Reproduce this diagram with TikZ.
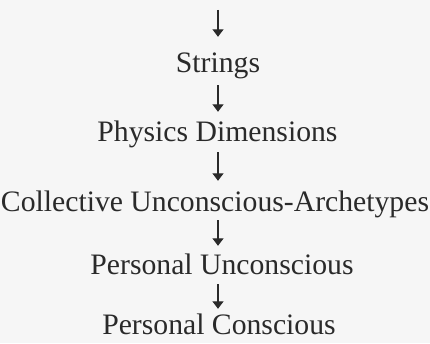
\documentclass[tikz,border=0pt]{standalone}
\usepackage{fontspec}
\setmainfont{Liberation Serif}
\usetikzlibrary{arrows.meta}
\definecolor{ink}{HTML}{2A2A2A}
\definecolor{paper}{HTML}{F6F6F6}
\tikzset{
  lbl/.style={anchor=base, inner sep=0pt, text height=20pt, text depth=0pt,
    text=ink, font=\fontsize{29.7}{35}\selectfont},
  arr/.style={draw=ink, line width=1.3pt, -{Triangle[length=7.5pt,width=11pt]}}
}
\begin{document}
\begin{tikzpicture}[x=1pt,y=1pt]
\fill[paper] (0,0) rectangle (430,343);
\useasboundingbox (0,0) rectangle (430,343);
\coordinate (axis) at (218,0);
\coordinate (top) at (218,333);
\node[lbl] (s) at (218,270) {Strings};
\node[lbl] (p) at (217.5,201) {Physics Dimensions};
\node[lbl] (c) at (215,132) {Collective Unconscious-Archetypes};
\node[lbl] (pu) at (222,69) {Personal Unconscious};
\node[lbl] (pc) at (219,9) {Personal Conscious};
\draw[arr, shorten >=16pt] (top) -- (s.north -| axis);
\draw[arr, shorten <=12pt, shorten >=10pt] (s.south -| axis) -- (p.north -| axis);
\draw[arr, shorten <=10pt, shorten >=10pt] (p.south -| axis) -- (c.north -| axis);
\draw[arr, shorten <=9pt, shorten >=8pt] (c.south -| axis) -- (pu.north -| axis);
\draw[arr, shorten <=10pt, shorten >=5pt] (pu.south -| axis) -- (pc.north -| axis);
\end{tikzpicture}
\end{document}
